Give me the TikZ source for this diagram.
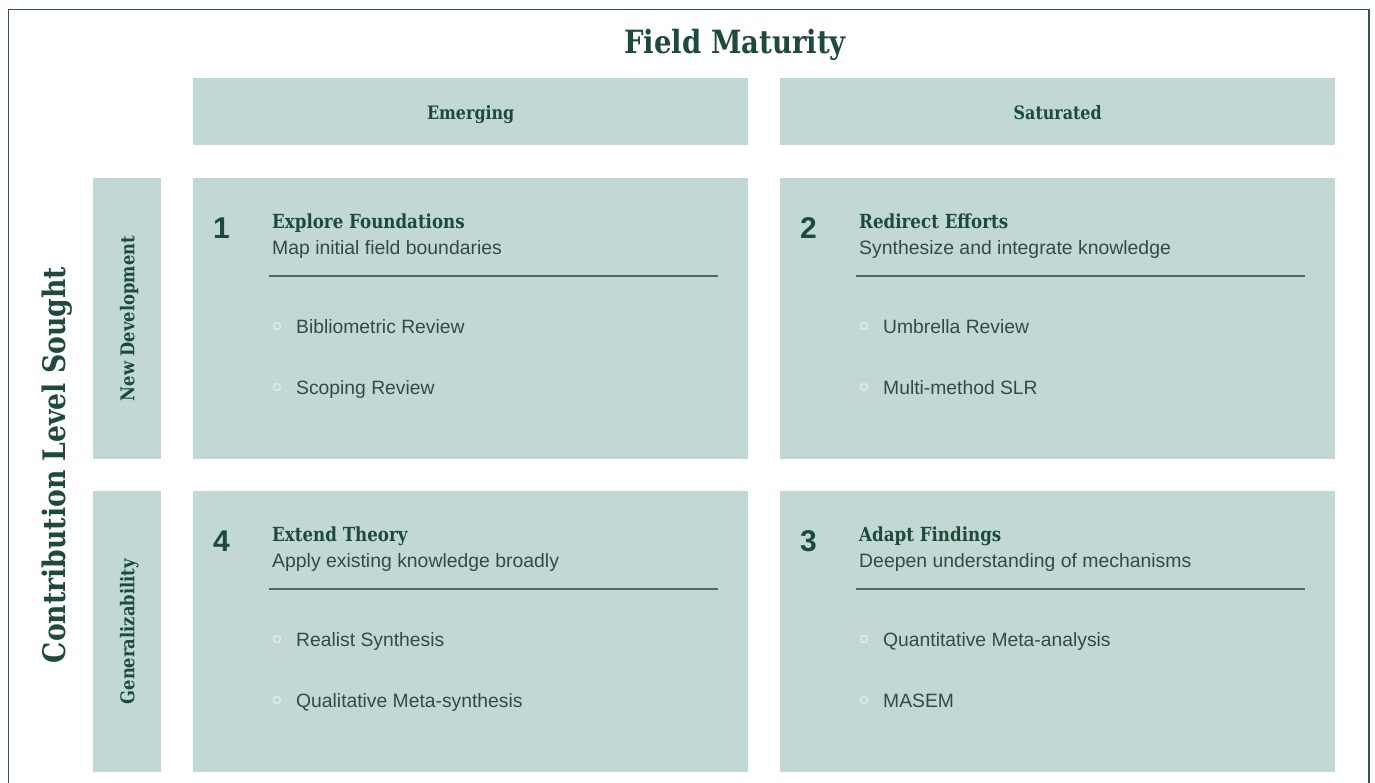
\documentclass[tikz,border=0pt]{standalone}
\usepackage{fontspec}
\usetikzlibrary{calc}
\setmainfont{Liberation Sans}
\newfontfamily\slab[FakeStretch=0.86]{DejaVu Serif}
\definecolor{boxfill}{HTML}{C2D8D4}
\definecolor{titlecol}{HTML}{1E4A3B}
\definecolor{bodycol}{HTML}{2F4D45}
\definecolor{rulecol}{HTML}{4A6A62}
\definecolor{framecol}{HTML}{2E5446}
\definecolor{bulletcol}{HTML}{E2EEEC}
\tikzset{
  box/.style={fill=boxfill, draw=none, inner sep=0pt, anchor=north west},
  hdr/.style={font=\slab\bfseries\fontsize{18.5}{20}\selectfont, text=titlecol, anchor=base, inner sep=0pt},
  rowlab/.style={font=\slab\bfseries\fontsize{19}{21}\selectfont, text=titlecol, rotate=90},
  numtxt/.style={font=\bfseries\fontsize{30}{32}\selectfont, text=titlecol, anchor=base west, inner sep=0pt},
  celltitle/.style={font=\slab\bfseries\fontsize{19.4}{21}\selectfont, text=titlecol, anchor=base west, inner sep=0pt},
  cellsub/.style={font=\fontsize{19.4}{21}\selectfont, text=bodycol, anchor=base west, inner sep=0pt},
  item/.style={font=\fontsize{19.3}{21}\selectfont, text=bodycol, anchor=base west, inner sep=0pt},
  sep/.style={draw=rulecol, line width=1.3pt},
  dot/.style={circle, draw=bulletcol, line width=1.3pt, minimum size=7pt, inner sep=0pt},
}
\newcommand{\quadcell}[8]{%
  \node[box, minimum width=555pt, minimum height=281pt] (#1) at (#2,#3) {};
  \node[numtxt] (#1num) at ($(#1.north west)+(20,60)$) {#4};
  \node[celltitle] (#1title) at ($(#1.north west)+(79,50)$) {#5};
  \node[cellsub] (#1sub) at ($(#1.north west)+(79,76)$) {#6};
  \coordinate (#1ruleA) at ($(#1.north west)+(76,98)$);
  \coordinate (#1ruleB) at ($(#1.north west)+(525,98)$);
  \draw[sep] (#1ruleA) -- (#1ruleB);
  \node[dot] (#1dotA) at ($(#1.north west)+(84,148)$) {};
  \node[item] (#1itemA) at ($(#1.north west)+(103,155)$) {#7};
  \node[dot] (#1dotB) at ($(#1.north west)+(84,209)$) {};
  \node[item] (#1itemB) at ($(#1.north west)+(103,216)$) {#8};
}
\begin{document}
\begin{tikzpicture}[x=1pt, y=-1pt]
\useasboundingbox (0,0) rectangle (1375,782);
\fill[white] (0,0) rectangle (1375,782);
\draw[framecol, line width=1.5pt] (8.5,790) -- (8.5,9.5) -- (1369,9.5) -- (1369,790);
\node[font=\slab\bfseries\fontsize{32}{35}\selectfont, text=titlecol] (title) at (735,45) {Field Maturity};
\node[font=\slab\bfseries\fontsize{31}{34}\selectfont, text=titlecol, rotate=90] (ylab) at (57,465) {Contribution Level Sought};
\node[box, minimum width=555pt, minimum height=67pt] (hE) at (193,78) {};
\node[hdr] (hEt) at ($(hE.north)+(0,41)$) {Emerging};
\node[box, minimum width=555pt, minimum height=67pt] (hS) at (780,78) {};
\node[hdr] (hSt) at ($(hS.north)+(0,41)$) {Saturated};
\node[box, minimum width=68pt, minimum height=281pt] (rN) at (93,178) {};
\node[rowlab] (rNt) at ($(rN.center)+(2,0)$) {New Development};
\node[box, minimum width=68pt, minimum height=281pt] (rG) at (93,491) {};
\node[rowlab] (rGt) at ($(rG.center)+(2,0)$) {Generalizability};
\quadcell{cA}{193}{178}{1}{Explore Foundations}{Map initial field boundaries}{Bibliometric Review}{Scoping Review}
\quadcell{cB}{780}{178}{2}{Redirect Efforts}{Synthesize and integrate knowledge}{Umbrella Review}{Multi-method SLR}
\quadcell{cD}{193}{491}{4}{Extend Theory}{Apply existing knowledge broadly}{Realist Synthesis}{Qualitative Meta-synthesis}
\quadcell{cC}{780}{491}{3}{Adapt Findings}{Deepen understanding of mechanisms}{Quantitative Meta-analysis}{MASEM}
\end{tikzpicture}
\end{document}
